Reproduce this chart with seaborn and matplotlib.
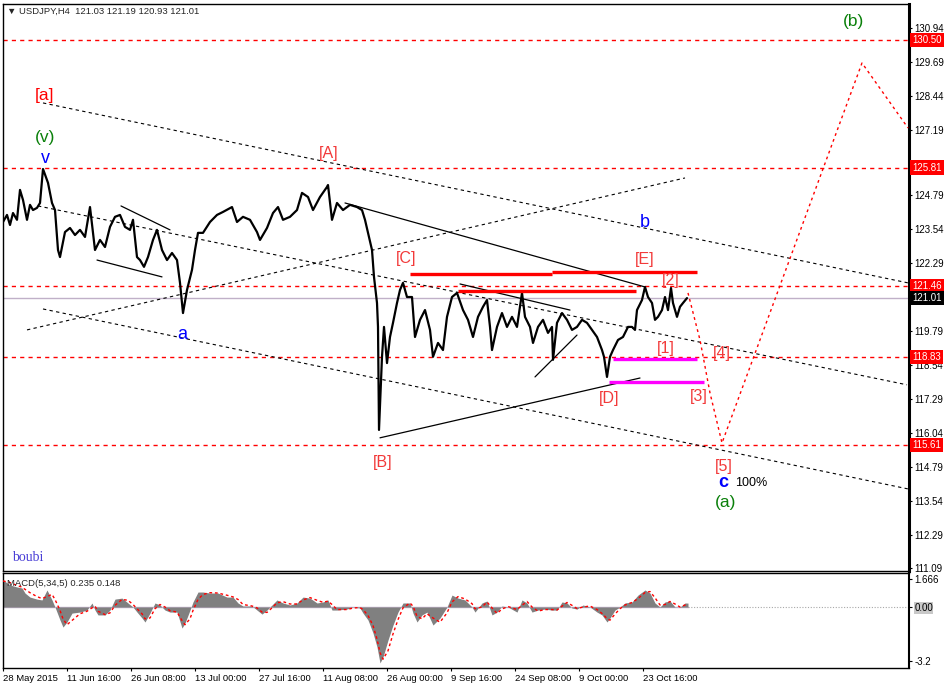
import numpy as np
import pandas as pd
import seaborn as sns
import matplotlib.pyplot as plt

# ---- price (H4 closes, x = bar number) ----
bars = [0, 4, 7, 10, 14, 17, 20, 24, 27, 30, 34, 37, 40, 45, 49, 52, 55, 57, 62, 67,
        72, 77, 82, 87, 92, 97, 102, 107, 112, 117, 122, 127, 130, 134, 137, 141, 145, 150, 154, 159,
        164, 169, 174, 177, 180, 184, 189, 192, 195, 200, 207, 214, 220, 229, 234,
        240, 247, 254, 257, 264, 270, 275, 280, 287, 294, 299, 305, 310, 317, 324, 325, 329, 334, 340, 347,
        354, 359, 362, 365, 369, 371, 374, 375, 376, 379, 381, 384, 387, 390, 394, 397, 400, 404, 409, 412,
        417, 422, 427, 430, 435, 440, 444, 449, 454, 460, 465,
        470, 475, 480, 484, 487, 489, 494, 499, 504, 509, 514, 519, 522, 527, 530, 535, 540, 545, 549, 550,
        554, 559, 564, 569, 574, 579, 584, 589, 594, 599, 601, 604, 607, 610, 615, 620, 625, 629, 632, 634,
        639, 642, 645, 649, 652, 655, 659, 662, 665, 668, 670, 674, 677, 680, 684]
close = [123.81, 124.07, 123.70, 124.14, 123.89, 124.99, 124.62, 123.89, 124.44, 124.25,
         124.33, 124.51, 125.76, 125.25, 124.51, 124.25, 122.78, 122.52, 123.44, 123.59,
         123.33, 123.52, 123.26, 124.36, 122.78, 123.15, 122.89, 123.63, 124.00, 124.07,
         123.63, 123.52, 123.89, 122.52, 122.41, 122.16, 122.52, 123.15, 123.52, 122.78,
         122.41, 122.67, 122.41, 121.57, 120.46, 121.31, 122.05, 122.78, 123.41, 123.41,
         123.81, 124.07, 124.18, 124.36, 123.81,
         124.00, 123.89, 123.44, 123.15, 123.59, 124.14, 124.36, 123.89, 124.00, 124.25,
         124.88, 124.73, 124.25, 124.73, 125.10, 125.17, 123.89, 124.51, 124.25, 124.44,
         124.36, 124.25, 123.89, 123.41, 122.78, 121.79, 120.83, 119.95, 116.16, 118.85,
         119.95, 118.62, 119.58, 120.10, 120.83, 121.31, 121.57, 121.05, 121.05, 119.58,
         120.21, 120.57, 119.84, 118.85, 119.36, 119.10, 120.32, 121.05, 121.20, 120.57,
         120.21,
         119.58, 120.32, 120.69, 120.94, 119.95, 119.10, 119.95, 120.46, 119.95, 120.32,
         119.95, 121.20, 120.32, 119.95, 119.36, 119.95, 120.21, 119.73, 119.95, 118.74,
         120.10, 120.46, 120.21, 119.84, 119.95, 120.21, 120.10, 119.84, 119.58, 119.10,
         118.85, 118.11, 118.85, 119.10, 119.47, 119.58, 119.95, 119.95, 119.84, 120.57,
         120.94, 121.42, 121.05, 120.83, 120.21, 120.32, 120.57, 121.05, 120.57, 121.38,
         120.83, 120.32, 120.69, 120.83, 121.01]

# ---- MACD(5,34,5) main histogram ----
macd_bar = [0, 7, 14, 19, 22, 27, 34, 39, 44, 49, 52, 57, 60, 64, 69, 77, 84, 89, 92, 95,
            102, 107, 112, 119, 125, 130, 134, 139, 142, 147, 152, 157, 162, 167, 174, 179, 182, 187, 190, 195,
            200, 207, 215, 224, 230, 235, 240, 249, 254, 259, 264, 269, 274, 280, 287, 294, 300, 307, 314, 320,
            325, 329, 334, 344, 350, 357, 360, 365, 370, 374, 377, 380, 385, 390, 395, 400, 407, 410, 414, 419,
            424, 430, 437, 444, 449, 455, 462, 469, 472,
            479, 484, 489, 494, 499, 505, 514, 519, 524, 529, 535, 542, 549, 554, 559, 564, 569, 574, 580, 587,
            594, 599, 604, 607, 612, 617, 622, 629, 635, 642, 647, 652, 657, 662, 667, 672, 677, 682, 685]
macd_val = [1.60, 1.31, 1.19, 1.13, 0.83, 0.59, 0.47, 0.42, 1.01, 0.42, 0, -0.77, -1.19, -0.89, -0.36, -0.30, -0.18, 0.24, -0.18, -0.47,
            -0.47, -0.18, 0.47, 0.53, 0.24, 0, -0.30, -0.65, -0.89, -0.36, 0.24, 0.12, -0.18, -0.30, -0.30, -1.25, -0.95, -0.18, 0.30, 0.89,
            0.89, 0.83, 0.83, 0.59, 0.59, 0.24, 0.06, 0.06, -0.18, -0.42, -0.18, 0.12, 0.42, 0.24, 0.12, 0.24, 0.59, 0.53, 0.24, 0.30,
            0.42, -0.18, -0.18, -0.12, 0, -0.06, -0.36, -0.77, -1.54, -2.37, -3.32, -2.97, -1.96, -1.07, -0.30, 0.24, 0.24, -0.36, -0.89, -0.47,
            -0.30, -1.07, -0.65, 0, 0.71, 0.53, 0.42, 0, -0.30,
            0.24, 0.36, -0.47, -0.30, 0.06, 0, -0.30, 0.42, 0.24, -0.30, -0.18, -0.12, -0.18, -0.18, 0.30, 0.24, -0.06, -0.12, 0.12, 0,
            -0.30, -0.47, -0.89, -0.65, -0.18, 0, 0.24, 0.30, 0.71, 1.01, 0.83, 0.24, 0, 0.30, 0.36, 0, 0, 0.24, 0.235]
sig_val = [1.55, 1.45, 1.28, 1.18, 1.05, 0.85, 0.62, 0.50, 0.62, 0.75, 0.45, -0.20, -0.70, -1.05, -0.80, -0.40, -0.25, -0.05, 0.05, -0.25,
           -0.45, -0.35, 0.10, 0.45, 0.40, 0.15, -0.10, -0.40, -0.70, -0.65, -0.10, 0.15, 0.00, -0.22, -0.30, -0.80, -1.05, -0.70, -0.20, 0.45,
           0.75, 0.85, 0.83, 0.70, 0.60, 0.45, 0.15, 0.06, -0.05, -0.30, -0.32, -0.05, 0.25, 0.32, 0.18, 0.18, 0.42, 0.56, 0.40, 0.28,
           0.35, 0.15, -0.15, -0.15, -0.06, -0.03, -0.15, -0.50, -1.10, -1.90, -2.70, -3.10, -2.60, -1.60, -0.75, -0.05, 0.24, 0.05, -0.55, -0.70,
           -0.40, -0.65, -0.90, -0.35, 0.30, 0.62, 0.48, 0.20, -0.10,
           0.00, 0.30, -0.05, -0.38, -0.12, 0.03, -0.15, 0.10, 0.33, 0.00, -0.24, -0.15, -0.15, -0.18, 0.05, 0.27, 0.10, -0.09, 0.00, 0.06,
           -0.15, -0.38, -0.68, -0.78, -0.42, -0.10, 0.12, 0.27, 0.50, 0.86, 0.92, 0.55, 0.12, 0.15, 0.33, 0.18, 0.00, 0.12, 0.148]

# ---- levels, trend lines and wave marks drawn on the chart ----
levels = [130.50, 125.81, 121.46, 118.83, 115.61]
last_price = 121.01
price_ticks = [130.94, 129.69, 128.44, 127.19, 125.94, 124.79, 123.54, 122.29, 121.04,
               119.79, 118.54, 117.29, 116.04, 114.79, 113.54, 112.29, 111.09]
hidden_ticks = [121.04]  # fully covered by the price boxes in the terminal
date_bars = [0, 64, 128, 192, 256, 320, 384, 448, 512, 576, 640]
date_labels = ["28 May 2015", "11 Jun 16:00", "26 Jun 08:00", "13 Jul 00:00", "27 Jul 16:00",
               "11 Aug 08:00", "26 Aug 00:00", "9 Sep 16:00", "24 Sep 08:00", "9 Oct 00:00", "23 Oct 16:00"]

channel_lines = [((40, 128.19), (905, 121.57)), ((35, 124.40), (904, 117.82)),
                 ((40, 120.61), (905, 113.99)), ((24, 119.84), (682, 125.43))]
solid_lines = [((342, 124.51), (642, 121.42)), ((377, 115.87), (637, 118.07)),
               ((457, 121.53), (567, 120.57)), ((532, 118.11), (574, 119.65)),
               ((118, 124.40), (167, 123.52)), ((94, 122.41), (159, 121.79))]
red_bars = [((407, 121.90), (549, 121.90)), ((549, 121.97), (694, 121.97)), ((455, 121.27), (633, 121.27))]
pink_bars = [((610, 118.77), (694, 118.77)), ((606, 117.93), (701, 117.93))]
forecast_bar = [685, 697, 707, 719, 859, 905]
forecast_price = [121.20, 119.47, 117.52, 115.68, 129.66, 127.27]

bracket_text = ["[A]", "[B]", "[C]", "[D]", "[E]", "[1]", "[2]", "[3]", "[4]", "[5]"]
bracket_bar = [326, 380, 403, 606, 642, 663, 668, 696, 719, 721]
bracket_price = [126.17, 114.80, 122.30, 117.15, 122.27, 118.99, 121.49, 117.23, 118.81, 114.65]
blue_text = ["v", "a", "b", "c"]
blue_bar = [42, 179, 642, 720]
blue_price = [125.98, 119.51, 123.63, 114.06]
green_text = ["(v)", "(a)", "(b)"]
green_bar = [42, 722.5, 850.5]
green_price = [126.76, 113.33, 131.02]

sns.set_style("white")
plt.rcParams['font.family'] = ['Liberation Sans', 'DejaVu Sans']

W, H = 949, 687
fig = plt.figure(figsize=(W / 100, H / 100), dpi=100)


def px_rect(x0, y0, x1, y1):
    return [x0 / W, 1 - y1 / H, (x1 - x0) / W, (y1 - y0) / H]


ax = fig.add_axes(px_rect(3, 4, 909, 571))
am = fig.add_axes(px_rect(3, 573, 909, 668))

# main pane
price_df = pd.DataFrame({"bar": bars, "price": close})
sns.lineplot(data=price_df, x="bar", y="price", ax=ax, color="black", lw=1.6, zorder=4)

ax.axhline(last_price, color="#c0b0c8", lw=1, zorder=1)
for lv in levels:
    ax.axhline(lv, color="red", lw=1, ls=(0, (3, 3)), zorder=2)

for (x0, y0), (x1, y1) in channel_lines:
    ax.plot([x0, x1], [y0, y1], color="black", lw=0.8, ls=(0, (3, 3)), zorder=3)
for (x0, y0), (x1, y1) in solid_lines:
    ax.plot([x0, x1], [y0, y1], color="black", lw=0.9, zorder=3)
for (x0, y0), (x1, y1) in red_bars:
    ax.plot([x0, x1], [y0, y1], color="red", lw=2.4, zorder=5, solid_capstyle="butt")
for (x0, y0), (x1, y1) in pink_bars:
    ax.plot([x0, x1], [y0, y1], color="#ff00ff", lw=2.4, zorder=5, solid_capstyle="butt")
ax.plot(forecast_bar, forecast_price, color="red", lw=1, ls=(0, (2, 2.5)), zorder=3)

for t, b, p in zip(bracket_text, bracket_bar, bracket_price):
    ax.text(b, p, t, color="#f23a3a", fontsize=11.5, ha="center", va="baseline", zorder=6)
ax.text(42, 128.30, "[a]", color="red", fontsize=12.5, ha="center", va="baseline", zorder=6)
for t, b, p in zip(blue_text, blue_bar, blue_price):
    ax.text(b, p, t, color="#0000ff", fontsize=13, ha="center", va="baseline", zorder=6,
            fontweight="bold" if t == "c" else "normal")
ax.text(732, 114.10, "100%", color="black", fontsize=9, ha="left", va="baseline", zorder=6)
for t, b, p in zip(green_text, green_bar, green_price):
    ax.text(b, p, t, color="#0a800a", fontsize=12.5, ha="center", va="baseline", zorder=6)
ax.text(9, 111.34, "boubi", color="#4a3fd6", fontsize=10, family="Liberation Serif",
        ha="left", va="baseline", zorder=6)
ax.text(4 / 906, (571 - 14) / 567, "\u25bc USDJPY,H4  121.03 121.19 120.93 121.01",
        transform=ax.transAxes, fontsize=6.8, ha="left", va="baseline")

ax.set_xlim(0, 906)
ax.set_ylim(110.97, 131.83)
ax.set_xlabel("")
ax.set_ylabel("")
ax.set_xticks([])
ax.yaxis.tick_right()
ax.set_yticks(price_ticks)
ax.set_yticklabels(["" if t in hidden_ticks else f"{t:.2f}" for t in price_ticks])
ax.tick_params(axis="y", right=True, left=False, length=2.2, width=0.8, pad=1.5,
               labelsize=7, direction="out", colors="black")

ytr = ax.get_yaxis_transform()
for lv in levels:
    ax.text(1.0035, lv, f"{lv:.2f}", transform=ytr, color="white", fontsize=7, ha="left",
            va="center", clip_on=False, zorder=10,
            bbox=dict(boxstyle="square,pad=0.22", fc="red", ec="none"))
ax.text(1.0035, last_price, f"{last_price:.2f}", transform=ytr, color="white", fontsize=7,
        ha="left", va="center", clip_on=False, zorder=10,
        bbox=dict(boxstyle="square,pad=0.22", fc="black", ec="none"))

# MACD pane
am.fill_between(macd_bar, 0, macd_val, color="#808080", lw=0, zorder=2)
am.plot([0, 685], [0, 0], color="#c0b0c8", lw=1, zorder=1)
am.plot([685, 906], [0, 0], color="#a8a8a8", lw=0.8, ls=(0, (1, 1.5)), zorder=1)
sig_df = pd.DataFrame({"bar": macd_bar, "signal": sig_val})
sns.lineplot(data=sig_df, x="bar", y="signal", ax=am, color="red", lw=1,
             linestyle=(0, (2, 2)), zorder=3)
am.text(4 / 906, (668 - 586) / 95, "MACD(5,34,5) 0.235 0.148", transform=am.transAxes,
        fontsize=6.8, ha="left", va="baseline")

am.set_xlim(0, 906)
am.set_ylim(-3.62, 2.02)
am.set_xlabel("")
am.set_ylabel("")
am.yaxis.tick_right()
am.set_yticks([1.666, 0, -3.2])
am.set_yticklabels(["1.666", "0.00", "-3.2"])
for lab in am.get_yticklabels():
    if lab.get_text() == "0.00":
        lab.set_bbox(dict(fc="#c8c8c8", ec="none", pad=0.6))
am.set_xticks(date_bars)
am.set_xticklabels(date_labels, ha="left")
am.tick_params(axis="y", right=True, left=False, length=2.2, width=0.8, pad=1.5,
               labelsize=7, direction="out", colors="black")
am.tick_params(axis="x", bottom=True, length=2.2, width=0.8, pad=2,
               labelsize=6.8, direction="out", colors="black")

for a in (ax, am):
    for s in a.spines.values():
        s.set_color("black")
        s.set_linewidth(1)
ax.spines["right"].set_linewidth(2.2)
am.spines["right"].set_linewidth(1.5)

fig.savefig("out.png", dpi=100, facecolor="white")
